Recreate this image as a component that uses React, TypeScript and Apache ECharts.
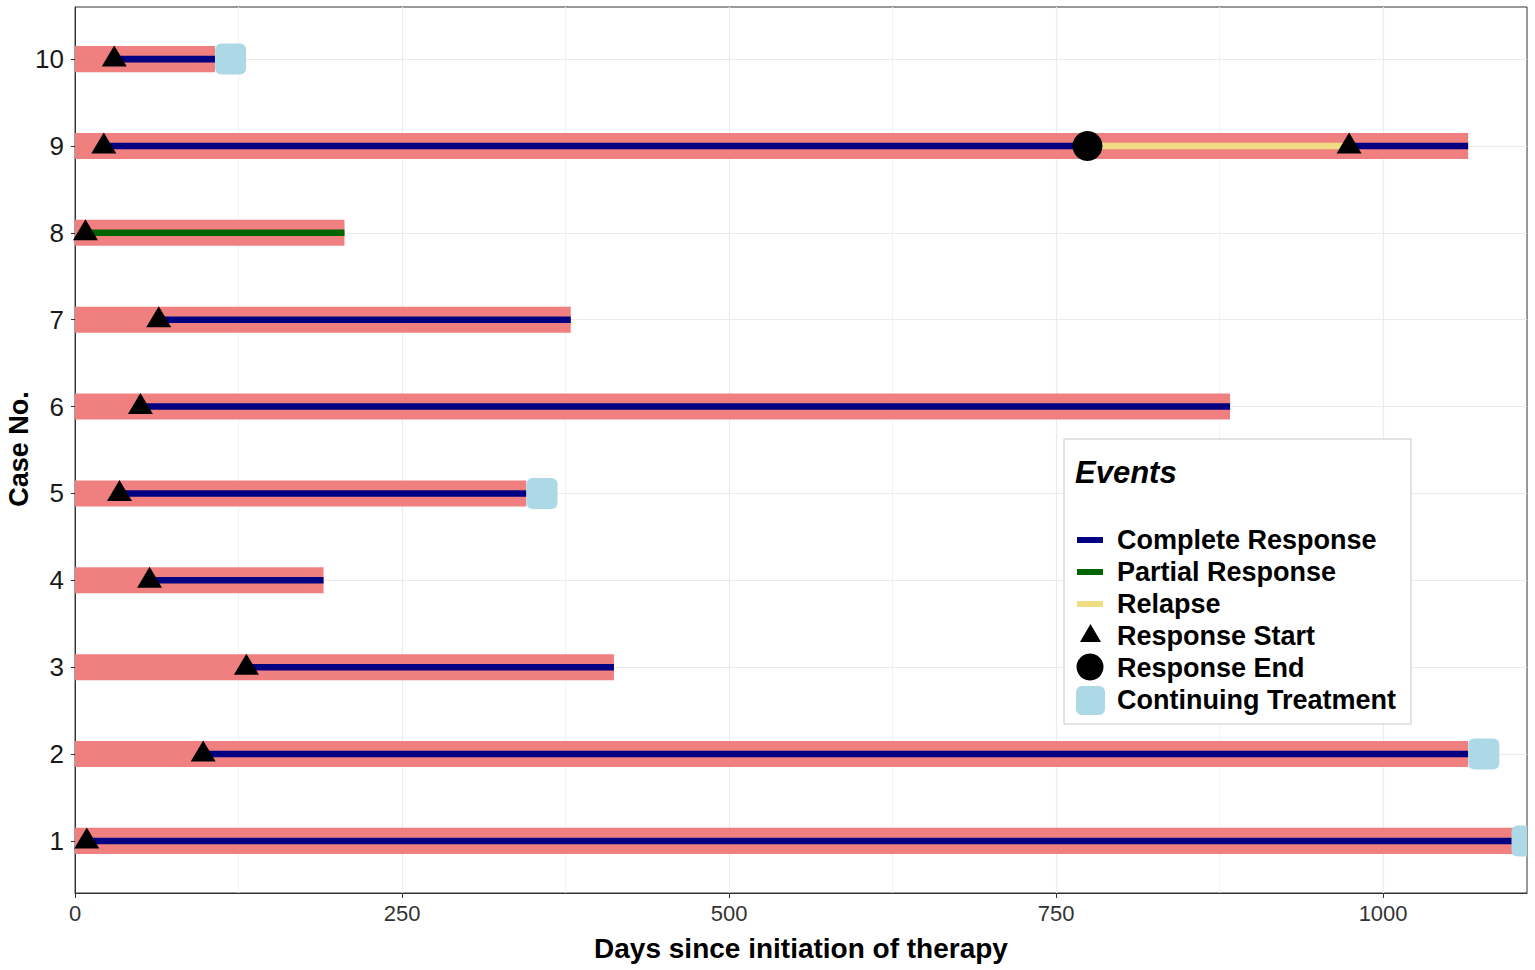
import React, { useEffect, useRef } from 'react';
import * as echarts from 'echarts';

// ---- data (days since initiation of therapy) ----
const caseNumbers = [1, 2, 3, 4, 5, 6, 7, 8, 9, 10];
const treatmentEnd = [1100, 1065, 412, 190, 345, 883, 379, 206, 1065, 107];
// [case, start, end]
const completeResponse = [
  [1, 9, 1100], [2, 98, 1065], [3, 131, 412], [4, 57, 190], [5, 34, 345],
  [6, 50, 883], [7, 64, 379], [9, 22, 774], [9, 974, 1065], [10, 30, 107],
];
const partialResponse = [[8, 8, 206]];
const relapse = [[9, 774, 974]];
// [day, case]
const responseStart = [
  [9, 1], [98, 2], [131, 3], [57, 4], [34, 5], [50, 6], [64, 7], [8, 8], [22, 9], [974, 9], [30, 10],
];
const responseEnd = [[774, 9]];
const continuingTreatment = [[1110, 1], [1077, 2], [357, 5], [119, 10]];
const xMajorTicks = [0, 250, 500, 750, 1000];
const xMinorTicks = [125, 375, 625, 875];
const xMax = 1110;

const FONT = '"Liberation Sans", Arial, sans-serif';
const C_BAR = '#F08080';
const C_CR = '#000080';
const C_PR = '#006400';
const C_REL = '#F0DC82';
const C_CT = '#ADD8E6';

function segmentSeries(name: string, data: number[][], color: string) {
  return {
    name,
    type: 'custom',
    clip: true,
    encode: { x: [1, 2], y: 0 },
    data,
    renderItem: (params: any, api: any) => {
      const y = api.value(0);
      const p0 = api.coord([api.value(1), y]);
      const p1 = api.coord([api.value(2), y]);
      const h = api.size([0, 0.075])[1];
      return {
        type: 'rect',
        shape: { x: p0[0], y: p0[1] - h / 2, width: p1[0] - p0[0], height: h },
        style: { fill: color },
      };
    },
    z: 3,
  };
}

export default function App() {
  const ref = useRef<HTMLDivElement>(null);
  useEffect(() => {
    if (!ref.current) return;
    const chart = echarts.init(ref.current, null, { renderer: 'svg' });
    const barData = caseNumbers.map((c, i) => [c, 0, treatmentEnd[i]]);

    const lx = 1077;
    const tx = 1117;
    const legendRows = [
      { label: 'Complete Response', y: 540 },
      { label: 'Partial Response', y: 572 },
      { label: 'Relapse', y: 604 },
      { label: 'Response Start', y: 636 },
      { label: 'Response End', y: 668 },
      { label: 'Continuing Treatment', y: 700 },
    ];

    const legendChildren: any[] = [
      {
        type: 'rect',
        shape: { x: 1064, y: 439, width: 347, height: 285 },
        style: { fill: '#ffffff', stroke: '#C8C8C8', lineWidth: 1 },
      },
      {
        type: 'text', x: 1075, y: 472,
        style: {
          text: 'Events', fontSize: 31, fontWeight: 'bold', fontStyle: 'italic',
          fontFamily: FONT, fill: '#000000', verticalAlign: 'middle',
        },
      },
      { type: 'rect', shape: { x: lx, y: 537, width: 26, height: 6 }, style: { fill: C_CR } },
      { type: 'rect', shape: { x: lx, y: 569, width: 26, height: 6 }, style: { fill: C_PR } },
      { type: 'rect', shape: { x: lx, y: 601, width: 26, height: 6 }, style: { fill: C_REL } },
      {
        type: 'polygon',
        shape: { points: [[1080, 642], [1101, 642], [1090.5, 624]] },
        style: { fill: '#000000' },
      },
      { type: 'circle', shape: { cx: 1090, cy: 667, r: 13.5 }, style: { fill: '#000000' } },
      {
        type: 'rect', shape: { x: 1076, y: 686, width: 29, height: 29, r: 6 },
        style: { fill: C_CT },
      },
      ...legendRows.map((r) => ({
        type: 'text', x: tx, y: r.y,
        style: {
          text: r.label, fontSize: 27, fontWeight: 'bold', fontFamily: FONT,
          fill: '#000000', verticalAlign: 'middle',
        },
      })),
    ].map((el, i) => ({ ...el, z: 100 + (i === 0 ? 0 : 1) }));

    const option: any = {
      animation: false,
      backgroundColor: '#ffffff',
      grid: {
        left: 75, top: 7, right: 8, bottom: 77,
        show: true, borderColor: '#333333', borderWidth: 1, backgroundColor: 'transparent',
        containLabel: false,
      },
      xAxis: {
        type: 'value', min: 0, max: xMax,
        axisLine: { show: true, onZero: false, lineStyle: { color: '#333333', width: 1 } },
        axisTick: { show: true, length: 5, customValues: xMajorTicks, lineStyle: { color: '#333333' } },
        axisLabel: {
          customValues: xMajorTicks, fontSize: 22, color: '#333333', fontFamily: FONT, margin: 9,
          formatter: (v: number) => String(v),
        },
        splitLine: { show: true, lineStyle: { color: '#EBEBEB', width: 1.2 } },
      },
      yAxis: {
        type: 'value', min: 0.4, max: 10.6,
        axisLine: { show: true, onZero: false, lineStyle: { color: '#333333', width: 1 } },
        axisTick: { show: true, length: 4, customValues: caseNumbers, lineStyle: { color: '#333333' } },
        axisLabel: {
          customValues: caseNumbers, fontSize: 26, color: '#1a1a1a', fontFamily: FONT, margin: 11,
          formatter: (v: number) => String(v),
        },
        splitLine: { show: true, lineStyle: { color: '#EBEBEB', width: 1.2 } },
      },
      series: [
        {
          name: 'minor grid',
          type: 'custom',
          silent: true,
          encode: { x: 0 },
          data: xMinorTicks.map((v) => [v]),
          renderItem: (params: any, api: any) => {
            const a = api.coord([api.value(0), 0.4]);
            const b = api.coord([api.value(0), 10.6]);
            return {
              type: 'line',
              shape: { x1: a[0], y1: a[1], x2: b[0], y2: b[1] },
              style: { stroke: '#F2F2F2', lineWidth: 1 },
            };
          },
          z: 1,
        },
        {
          name: 'Treatment',
          type: 'custom',
          clip: true,
          encode: { x: [1, 2], y: 0 },
          data: barData,
          renderItem: (params: any, api: any) => {
            const y = api.value(0);
            const p0 = api.coord([api.value(1), y]);
            const p1 = api.coord([api.value(2), y]);
            const h = api.size([0, 0.3])[1];
            return {
              type: 'rect',
              shape: { x: p0[0], y: p0[1] - h / 2, width: p1[0] - p0[0], height: h },
              style: { fill: C_BAR },
            };
          },
          z: 2,
        },
        segmentSeries('Complete Response', completeResponse, C_CR),
        segmentSeries('Partial Response', partialResponse, C_PR),
        segmentSeries('Relapse', relapse, C_REL),
        {
          name: 'Continuing Treatment',
          type: 'custom',
          clip: true,
          encode: { x: 0, y: 1 },
          data: continuingTreatment,
          renderItem: (params: any, api: any) => {
            const p = api.coord([api.value(0), api.value(1)]);
            const s = 31;
            return {
              type: 'rect',
              shape: { x: p[0] - s / 2, y: p[1] - s / 2, width: s, height: s, r: 6 },
              style: { fill: C_CT },
            };
          },
          z: 4,
        },
        {
          name: 'Response Start',
          type: 'scatter',
          symbol: 'triangle',
          symbolSize: [25, 21],
          symbolOffset: [0, -3],
          itemStyle: { color: '#000000', opacity: 1 },
          data: responseStart,
          z: 5,
        },
        {
          name: 'Response End',
          type: 'scatter',
          symbol: 'circle',
          symbolSize: 30,
          itemStyle: { color: '#000000', opacity: 1 },
          data: responseEnd,
          z: 5,
        },
      ],
      graphic: [
        {
          type: 'text', x: 801, y: 948,
          style: {
            text: 'Days since initiation of therapy', fontSize: 28, fontWeight: 'bold',
            fontFamily: FONT, fill: '#000000', align: 'center', verticalAlign: 'middle',
          },
        },
        {
          type: 'text', x: 19, y: 449, rotation: Math.PI / 2,
          style: {
            text: 'Case No.', fontSize: 27, fontWeight: 'bold',
            fontFamily: FONT, fill: '#000000', align: 'center', verticalAlign: 'middle',
          },
        },
        ...legendChildren,
      ],
    };
    chart.setOption(option);
    return () => chart.dispose();
  }, []);
  return (
    <div
      ref={ref}
      style={{ position: 'absolute', left: 0, top: 0, width: 1535, height: 970, background: '#fff' }}
    />
  );
}
